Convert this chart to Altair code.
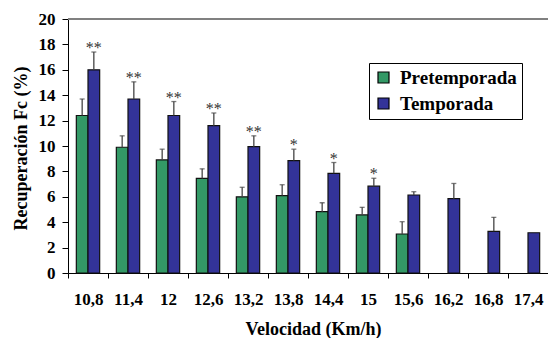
import altair as alt
import pandas as pd

# ---- data ----
velocidades = ["10,8", "11,4", "12", "12,6", "13,2", "13,8", "14,4", "15", "15,6", "16,2", "16,8", "17,4"]
pretemporada = [12.4, 9.9, 8.9, 7.45, 6.0, 6.1, 4.83, 4.57, 3.07, None, None, None]
pretemporada_err = [1.3, 0.9, 0.85, 0.75, 0.75, 0.85, 0.7, 0.6, 0.97, None, None, None]
temporada = [16.0, 13.7, 12.4, 11.6, 9.95, 8.85, 7.85, 6.84, 6.14, 5.85, 3.28, 3.17]
temporada_err = [1.4, 1.35, 1.1, 1.0, 0.85, 0.9, 0.85, 0.62, 0.26, 1.2, 1.1, None]
significancia = ["**", "**", "**", "**", "**", "*", "*", "*", "", "", "", ""]
y_ticks = [0, 2, 4, 6, 8, 10, 12, 14, 16, 18, 20]

series = ["Pretemporada", "Temporada"]
colores = ["#339966", "#333399"]

rows = []
for i, v in enumerate(velocidades):
    for s, vals, errs in (("Pretemporada", pretemporada, pretemporada_err),
                          ("Temporada", temporada, temporada_err)):
        if vals[i] is None:
            continue
        e = errs[i] if errs[i] is not None else 0.0
        rows.append({"vel": v, "serie": s, "valor": vals[i], "err": e,
                     "top": vals[i] + e,
                     "sig": significancia[i] if s == "Temporada" else ""})
df = pd.DataFrame(rows)
df_err = df[df["err"] > 0]
df_sig = df[df["sig"] != ""]

FONT = "Liberation Serif"

y_scale = alt.Scale(domain=[0, 20], nice=False)

bars = alt.Chart(df).mark_bar(stroke="#111111", strokeWidth=1.2).encode(
    x=alt.X("vel:N", sort=velocidades,
            scale=alt.Scale(domain=velocidades, paddingInner=0, paddingOuter=0),
            axis=alt.Axis(title="Velocidad (Km/h)", labelAngle=0, tickBand="extent",
                          tickSize=5, labelPadding=13, titleX=245, titleY=61,
                          titleAlign="center", titleBaseline="alphabetic")),
    xOffset=alt.XOffset("serie:N", scale=alt.Scale(domain=series, paddingOuter=0.714,
                                                   paddingInner=0)),
    y=alt.Y("valor:Q", scale=y_scale,
            axis=alt.Axis(title="Recuperación Fc (%)", values=y_ticks, tickCount=11,
                          labelOverlap=False, grid=False, tickSize=6, labelPadding=7,
                          titleX=-38, titleY=129, titleAlign="center",
                          titleBaseline="bottom")),
    color=alt.Color("serie:N", scale=alt.Scale(domain=series, range=colores),
                    legend=alt.Legend(title=None, orient="none", legendX=301, legendY=44,
                                      symbolType="square", symbolSize=121,
                                      symbolStrokeColor="black", symbolStrokeWidth=1.2,
                                      labelFontSize=19, labelOffset=7, rowPadding=6,
                                      padding=5, strokeColor="black", fillColor="white")),
)

err_rule = alt.Chart(df_err).mark_rule(color="#444444", strokeWidth=1.3).encode(
    x=alt.X("vel:N", sort=velocidades),
    xOffset=alt.XOffset("serie:N"),
    y=alt.Y("valor:Q", scale=y_scale),
    y2="top:Q",
)
err_cap = alt.Chart(df_err).mark_tick(color="#444444", thickness=1.3, size=5).encode(
    x=alt.X("vel:N", sort=velocidades),
    xOffset=alt.XOffset("serie:N"),
    y=alt.Y("top:Q", scale=y_scale),
)
stars = alt.Chart(df_sig).mark_text(fontSize=16, baseline="alphabetic", dy=1).encode(
    x=alt.X("vel:N", sort=velocidades),
    xOffset=alt.XOffset("serie:N"),
    y=alt.Y("top:Q", scale=y_scale),
    text="sig:N",
    color=alt.value("#333333"),
)
top_line = alt.Chart(pd.DataFrame({"y": [20]})).mark_rule(color="#808080", strokeWidth=2).encode(
    y=alt.Y("y:Q", scale=y_scale)
)

chart = alt.layer(bars, err_rule, err_cap, stars, top_line).properties(
    width=480, height=254,
    autosize=alt.AutoSizeParams(type="none"),
    padding={"left": 68, "top": 19, "right": 0, "bottom": 65},
    background="white",
).configure(
    font=FONT,
).configure_view(
    stroke=None
).configure_axis(
    labelFont=FONT, labelFontSize=17, labelFontWeight="bold", labelColor="black",
    titleFont=FONT, titleFontSize=18, titleFontWeight="bold", titleColor="black",
    domainColor="black", tickColor="black",
).configure_legend(
    labelFont=FONT, labelFontWeight="bold", labelColor="black",
).configure_text(
    font=FONT,
)

chart.save("out.html", embed_options={"renderer": "svg", "actions": False})
